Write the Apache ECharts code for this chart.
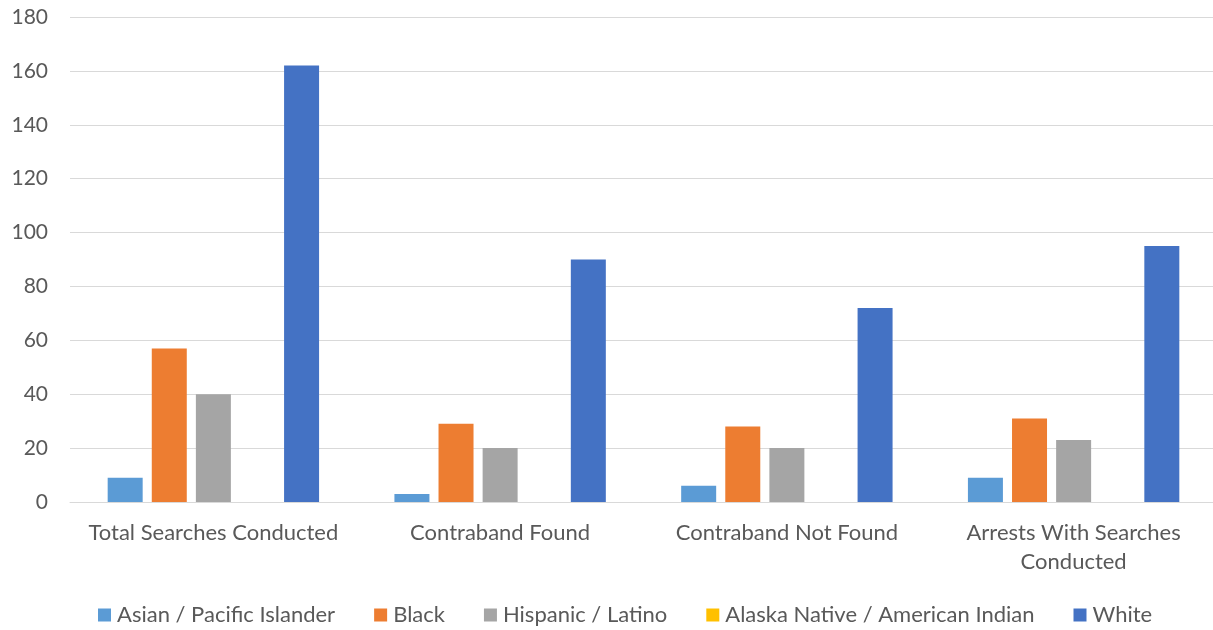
<!DOCTYPE html>
<html>
<head>
<meta charset="utf-8">
<script src="https://cdn.jsdelivr.net/npm/echarts@6/dist/echarts.min.js"></script>
<style>
  html, body { margin: 0; padding: 0; background: #fff; }
  #chart { width: 1213px; height: 630px; }
</style>
</head>
<body>
<div id="chart"></div>
<script>
// Search outcomes by race
const categories = ['Total Searches Conducted', 'Contraband Found', 'Contraband Not Found', 'Arrests With Searches\nConducted'];
const asianPacific = [9, 3, 6, 9];
const black = [57, 29, 28, 31];
const hispanicLatino = [40, 20, 20, 23];
const alaskaNativeAmericanIndian = [0, 0, 0, 0];
const white = [162, 90, 72, 95];
const yTicks = { min: 0, max: 180, interval: 20 };

const FONT = 'Lato';
const TEXT = '#595959';

const seriesDefs = [
  { name: 'Asian / Pacific Islander', data: asianPacific, color: '#5B9BD5' },
  { name: 'Black', data: black, color: '#ED7D31' },
  { name: 'Hispanic / Latino', data: hispanicLatino, color: '#A5A5A5' },
  { name: 'Alaska Native / American Indian', data: alaskaNativeAmericanIndian, color: '#FFC000' },
  { name: 'White', data: white, color: '#4472C4' }
];

const chart = echarts.init(document.getElementById('chart'), null, { renderer: 'canvas' });
chart.setOption({
  animation: false,
  backgroundColor: '#fff',
  textStyle: { fontFamily: FONT },
  // plot area runs slightly past the right edge of the canvas
  grid: { left: 70, width: 1147, top: 17, height: 485, outerBoundsMode: 'none' },
  legend: {
    top: 604,
    left: 98,
    padding: 0,
    itemWidth: 13,
    itemHeight: 13,
    itemGap: 39,
    icon: 'rect',
    textStyle: { color: TEXT, fontSize: 22, fontFamily: FONT, padding: [0, 0, 0, 1] },
    data: seriesDefs.map(s => s.name)
  },
  xAxis: {
    type: 'category',
    data: categories,
    axisLine: { lineStyle: { color: '#D9D9D9', width: 1 } },
    axisTick: { show: false },
    axisLabel: { color: TEXT, fontSize: 22, margin: 16, lineHeight: 29, interval: 0 }
  },
  yAxis: {
    type: 'value',
    min: yTicks.min,
    max: yTicks.max,
    interval: yTicks.interval,
    axisLine: { show: false },
    axisTick: { show: false },
    splitLine: { lineStyle: { color: '#D9D9D9', width: 1 } },
    axisLabel: { color: TEXT, fontSize: 21, margin: 22 }
  },
  series: seriesDefs.map(s => ({
    name: s.name,
    type: 'bar',
    data: s.data,
    barWidth: 35,
    barGap: '26%',
    itemStyle: { color: s.color }
  }))
});
</script>
</body>
</html>
